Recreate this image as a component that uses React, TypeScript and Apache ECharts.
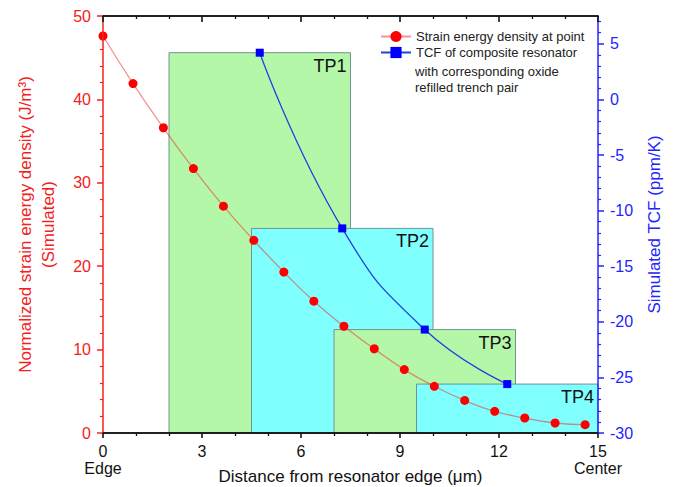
import React, { useEffect, useRef } from "react";
import * as echarts from "echarts";

const FONT = "Liberation Sans, Arial, sans-serif";

// Strain energy density (left axis)
const strainX = [0, 0.91, 1.83, 2.74, 3.65, 4.57, 5.48, 6.39, 7.3, 8.22, 9.13, 10.04, 10.96, 11.87, 12.78, 13.7, 14.61];
const strainY = [47.6, 41.9, 36.6, 31.7, 27.2, 23.1, 19.3, 15.8, 12.8, 10.1, 7.6, 5.6, 3.9, 2.6, 1.8, 1.2, 1.0];

// TCF (right axis)
const tcfX = [4.75, 7.25, 9.75, 12.25];
const tcfY = [4.2, -11.6, -20.7, -25.6];

// Trench pair regions
const tpNames = ["TP1", "TP2", "TP3", "TP4"];
const tpStart = [2, 4.5, 7, 9.5];
const tpEnd = [7.5, 10, 12.5, 15];
const tpColors = ["#b5f7a8", "#80ffff", "#b5f7a8", "#80ffff"];

// Right axis ticks
const tcfMajorTicks = [-30, -25, -20, -15, -10, -5, 0, 5];
const tcfMinorTicks = [-29, -28, -27, -26, -24, -23, -22, -21, -19, -18, -17, -16, -14, -13, -12, -11, -9, -8, -7, -6, -4, -3, -2, -1, 1, 2, 3, 4, 6, 7];

// Frame edges on the left axis scale (bottom and top of plot)
const frameValues = [0, 50];

const RED = "#f42020";
const BLUE = "#2424ff";
const BLACK = "rgb(20,20,20)";

export default function App() {
  const ref = useRef<HTMLDivElement>(null);
  useEffect(() => {
    if (!ref.current) return;
    const chart = echarts.init(ref.current, null, { renderer: "svg" });
    const option: any = {
      animation: false,
      backgroundColor: "#ffffff",
      grid: {
        left: 103,
        right: 80,
        top: 16,
        bottom: 54,
        outerBoundsMode: "none",
        containLabel: false,
      },
      legend: {
        orient: "vertical",
        left: 380,
        top: 30,
        padding: 0,
        itemWidth: 30,
        itemHeight: 14,
        itemGap: 3,
        textStyle: { fontFamily: FONT, fontSize: 13, color: "#222" },
        data: ["Strain energy density at point", "TCF of composite resonator"],
      },
      graphic: [
        { type: "text", x: 415, y: 71, style: { text: "with corresponding oxide", font: `13px ${FONT}`, fill: "#222", verticalAlign: "middle" } },
        { type: "text", x: 415, y: 87, style: { text: "refilled trench pair", font: `13px ${FONT}`, fill: "#222", verticalAlign: "middle" } },
      ],
      xAxis: [
        {
          type: "value",
          position: "bottom",
          z: 10,
          min: 0,
          max: 15,
          interval: 3,
          name: "Distance from resonator edge (μm)",
          nameLocation: "middle",
          nameGap: 35,
          nameMoveOverlap: false,
          nameTextStyle: { fontFamily: FONT, fontSize: 17, color: "#111" },
          axisLine: { show: true, onZero: false, lineStyle: { color: BLACK, width: 1.6 } },
          axisTick: { show: true, inside: false, length: 5, lineStyle: { color: BLACK, width: 1.6 } },
          minorTick: { show: true, splitNumber: 3, length: 3, lineStyle: { color: BLACK, width: 1.3 } },
          splitLine: { show: false },
          axisLabel: {
            margin: 10,
            fontFamily: FONT,
            fontSize: 16,
            lineHeight: 17,
            color: "#111",
            formatter: (v: number) => (v === 0 ? "0\nEdge" : v === 15 ? "15\nCenter" : String(v)),
          },
        },
        {
          type: "value",
          show: true,
          position: "top",
          z: 10,
          min: 0,
          max: 15,
          interval: 3,
          axisLine: { show: true, onZero: false, lineStyle: { color: BLACK, width: 1.6 } },
          axisTick: { show: true, inside: true, length: 6, lineStyle: { color: BLACK, width: 1.6 } },
          minorTick: { show: true, splitNumber: 3, length: 3, lineStyle: { color: BLACK, width: 1.3 } },
          splitLine: { show: false },
          axisLabel: { show: false },
        },
      ],
      yAxis: [
        {
          type: "value",
          position: "left",
          z: 10,
          min: 0,
          max: 50,
          interval: 10,
          name: "Normalized strain energy density (J/m³)\n(Simulated)",
          nameLocation: "middle",
          nameGap: 43,
          nameTextStyle: { fontFamily: FONT, fontSize: 17, color: RED, lineHeight: 23 },
          axisLine: { show: true, onZero: false, lineStyle: { color: RED, width: 1.5 } },
          axisTick: { show: true, inside: false, length: 6, lineStyle: { color: RED, width: 1.5 } },
          minorTick: { show: true, splitNumber: 5, length: 3, lineStyle: { color: RED, width: 1.2 } },
          splitLine: { show: false },
          axisLabel: { margin: 12, fontFamily: FONT, fontSize: 16, color: RED },
        },
        {
          type: "value",
          position: "right",
          z: 10,
          min: -30,
          max: 7.5,
          interval: 5,
          name: "Simulated TCF (ppm/K)",
          nameLocation: "middle",
          nameGap: 48,
          nameTextStyle: { fontFamily: FONT, fontSize: 17, color: BLUE },
          axisLine: { show: true, onZero: false, lineStyle: { color: BLUE, width: 1.5 } },
          axisTick: { show: true, inside: false, length: 6, customValues: tcfMajorTicks, lineStyle: { color: BLUE, width: 1.5 } },
          splitLine: { show: false },
          axisLabel: { margin: 12, fontFamily: FONT, fontSize: 16, color: BLUE, customValues: tcfMajorTicks },
        },
        {
          type: "value",
          position: "right",
          z: 10,
          min: -30,
          max: 7.5,
          interval: 5,
          axisLine: { show: false, onZero: false },
          axisTick: { show: true, inside: false, length: 3, customValues: tcfMinorTicks, lineStyle: { color: BLUE, width: 1.2 } },
          splitLine: { show: false },
          axisLabel: { show: false },
        },
      ],
      series: [
        {
          type: "custom",
          name: "regions",
          xAxisIndex: 0,
          yAxisIndex: 1,
          z: 1,
          silent: true,
          encode: { x: [0, 1], y: 2 },
          data: tpNames.map((_, i) => [tpStart[i], tpEnd[i], tcfY[i], i]),
          renderItem: (params: any, api: any) => {
            const idx = api.value(3);
            const p0 = api.coord([api.value(0), api.value(2)]);
            const p1 = api.coord([api.value(1), -30]);
            return {
              type: "group",
              children: [
                {
                  type: "rect",
                  shape: { x: p0[0], y: p0[1], width: p1[0] - p0[0], height: p1[1] - p0[1] },
                  style: { fill: tpColors[idx], stroke: "#6f9494", lineWidth: 1 },
                },
                {
                  type: "text",
                  x: p1[0] - 4,
                  y: p0[1] + 4,
                  style: {
                    text: tpNames[idx],
                    font: `18px ${FONT}`,
                    fill: "#111",
                    align: "right",
                    verticalAlign: "top",
                  },
                },
              ],
            };
          },
        },
        {
          type: "line",
          name: "Strain energy density at point",
          xAxisIndex: 0,
          yAxisIndex: 0,
          z: 3,
          smooth: true,
          symbol: "circle",
          symbolSize: 9,
          itemStyle: { color: "#ff0000" },
          lineStyle: { color: "rgba(235,40,40,0.5)", width: 1.3 },
          data: strainX.map((x, i) => [x, strainY[i]]),
          markLine: {
            silent: true,
            symbol: ["none", "none"],
            label: { show: false },
            emphasis: { disabled: true },
            lineStyle: { color: "#141414", width: 1.6, type: "solid", opacity: 1 },
            data: frameValues.map((v) => ({ yAxis: v })),
          },
        },
        {
          type: "line",
          name: "TCF of composite resonator",
          xAxisIndex: 0,
          yAxisIndex: 1,
          z: 4,
          smooth: true,
          symbol: "rect",
          symbolSize: 8,
          itemStyle: { color: "#0000ff" },
          lineStyle: { color: "#1f45dd", width: 1.3 },
          data: tcfX.map((x, i) => [x, tcfY[i]]),
        },
      ],
    };
    chart.setOption(option);
    return () => chart.dispose();
  }, []);
  return <div ref={ref} style={{ position: "absolute", left: 0, top: 0, width: 678, height: 487 }} />;
}
